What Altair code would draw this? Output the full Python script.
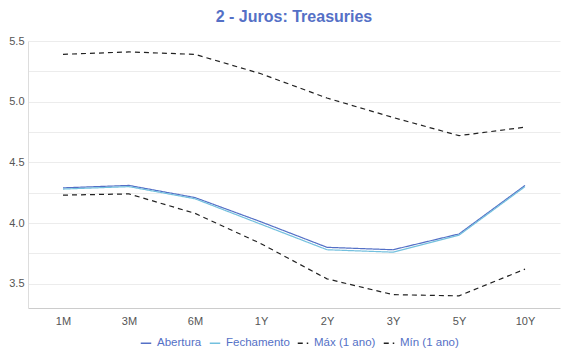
import altair as alt
import pandas as pd

tenors = ["1M", "3M", "6M", "1Y", "2Y", "3Y", "5Y", "10Y"]
abertura = [4.29, 4.31, 4.21, 4.01, 3.80, 3.78, 3.91, 4.31]
fechamento = [4.28, 4.30, 4.20, 3.99, 3.78, 3.76, 3.90, 4.30]
maximo = [5.39, 5.41, 5.39, 5.23, 5.03, 4.87, 4.72, 4.79]
minimo = [4.23, 4.24, 4.08, 3.83, 3.54, 3.41, 3.40, 3.62]

series = ["Abertura", "Fechamento", "Máx (1 ano)", "Mín (1 ano)"]
rows = []
for name, vals in zip(series, [abertura, fechamento, maximo, minimo]):
    for i, (t, v) in enumerate(zip(tenors, vals)):
        rows.append({"Prazo": t, "Taxa": v, "Serie": name, "ord": i})
df = pd.DataFrame(rows)

chart = alt.Chart(df).mark_line(strokeWidth=1.2).encode(
    x=alt.X("Prazo:N", sort=tenors,
            scale=alt.Scale(type="point", padding=0.53),
            axis=alt.Axis(title=None, labelAngle=0, grid=False, ticks=False,
                          domainColor="#cccccc", labelColor="#555555",
                          labelFontSize=11, labelPadding=7)),
    y=alt.Y("Taxa:Q", scale=alt.Scale(domain=[3.3, 5.5], nice=False, zero=False),
            axis=alt.Axis(title=None, values=[3.5, 3.75, 4.0, 4.25, 4.5, 4.75, 5.0, 5.25, 5.5],
                          labelExpr="(datum.value*4) % 2 == 0 ? format(datum.value, '.1f') : ''",
                          ticks=False, grid=True, gridColor="#ececec",
                          domainColor="#dddddd", labelColor="#555555",
                          labelFontSize=11, labelPadding=4)),
    color=alt.Color("Serie:N", sort=series,
                    scale=alt.Scale(domain=series,
                                    range=["#5470c6", "#73c0de", "#222222", "#222222"]),
                    legend=alt.Legend(title=None, orient="none", direction="horizontal",
                                      legendX=112, legendY=296,
                                      symbolType="stroke", symbolSize=110,
                                      symbolStrokeWidth=1.5,
                                      labelColor="#5470c6", labelFontSize=11.5,
                                      columnPadding=4, labelOffset=5)),
    strokeDash=alt.StrokeDash("Serie:N", sort=series,
                              scale=alt.Scale(domain=series,
                                              range=[[1, 0], [1, 0], [5, 4], [5, 4]]),
                              legend=None),
    order="ord:Q",
).properties(
    width=532,
    height=267,
    autosize=alt.AutoSizeParams(type="none"),
    padding={"left": 20, "top": 33, "right": 2, "bottom": 44},
    title=alt.Title("2 - Juros: Treasuries", anchor="middle", color="#5470c6",
                    fontSize=16, fontWeight="bold", font="Liberation Sans",
                    offset=10, frame="group"),
).configure(
    font="Liberation Sans"
).configure_view(stroke=None)

chart.save("out.html", embed_options={"renderer": "svg", "actions": False})
